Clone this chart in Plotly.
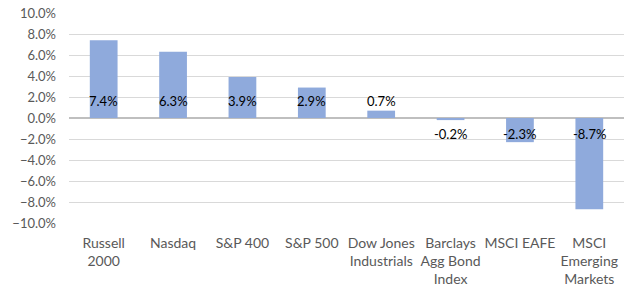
import plotly.graph_objects as go

categories = ["Russell<br>2000", "Nasdaq", "S&P 400", "S&P 500", "Dow Jones<br>Industrials",
              "Barclays<br>Agg Bond<br>Index", "MSCI EAFE", "MSCI<br>Emerging<br>Markets"]
values = [0.074, 0.063, 0.039, 0.029, 0.007, -0.002, -0.023, -0.087]
tick_vals = [-0.10, -0.08, -0.06, -0.04, -0.02, 0.0, 0.02, 0.04, 0.06, 0.08, 0.10]

FONT = "Lato, Open Sans, sans-serif"

fig = go.Figure()
fig.add_trace(go.Bar(x=categories, y=values, marker_color="#8FAADC",
                     marker_line_width=0, width=0.4))

for c, v in zip(categories, values):
    fig.add_annotation(x=c, y=0, text=f"{v*100:.1f}%", showarrow=False,
                       yshift=17 if v >= 0 else -16,
                       font=dict(family=FONT, size=13, color="#000000"))

fig.update_layout(
    width=626, height=286,
    margin=dict(l=69, r=2, t=13, b=63, autoexpand=False),
    paper_bgcolor="white", plot_bgcolor="white",
    showlegend=False,
    font=dict(family=FONT, size=13, color="#595959"),
    bargap=0.6,
)
fig.update_yaxes(range=[-0.10, 0.10], tickvals=tick_vals, tickformat=".1%",
                 showgrid=True, gridcolor="#D9D9D9", gridwidth=1,
                 zeroline=True, zerolinecolor="#BFBFBF", zerolinewidth=2,
                 showline=False, ticks="", ticklabelstandoff=12, automargin=False,
                 tickfont=dict(family=FONT, size=13, color="#595959"))
fig.update_xaxes(showgrid=False, showline=False, ticks="", ticklabelstandoff=10,
                 automargin=False,
                 tickfont=dict(family=FONT, size=14, color="#595959"))

fig.write_html("out.html", config={"displayModeBar": False},
               post_script="document.body.style.margin='0';document.body.style.overflow='hidden';")
